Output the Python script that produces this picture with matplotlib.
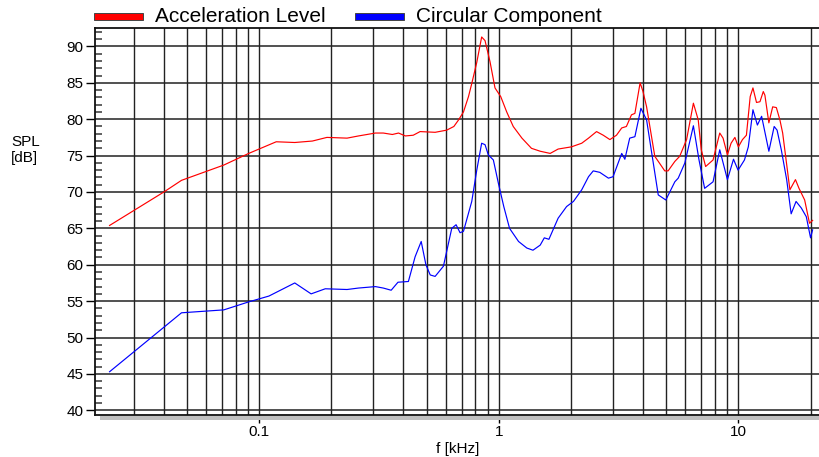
import matplotlib
matplotlib.use('Agg')
import matplotlib.pyplot as plt
from matplotlib.patches import Rectangle
from matplotlib.ticker import FixedLocator, NullFormatter

plt.rcParams['font.family'] = ['Liberation Sans', 'DejaVu Sans']

# Acceleration level (red), frequency in kHz and level in dB
acc_freq = [0.0238, 0.0401, 0.0475, 0.0713, 0.0906, 0.118, 0.141, 0.167, 0.192, 0.233,
            0.26, 0.306, 0.33, 0.36, 0.382, 0.408, 0.44, 0.47, 0.543, 0.607,
            0.65, 0.68, 0.713, 0.748, 0.772, 0.81, 0.849, 0.877, 0.92, 0.965,
            1.02, 1.08, 1.15, 1.25, 1.37, 1.49, 1.64, 1.77, 2.01, 2.22,
            2.37, 2.56, 2.73, 2.91, 3.10, 3.26, 3.41, 3.58, 3.70, 3.89,
            4.0, 4.14, 4.48, 4.93, 5.09, 5.43, 5.69, 6.08, 6.49, 6.8,
            7.0, 7.3, 7.84, 8.36, 8.63, 9.0, 9.32, 9.67, 10.0, 10.4,
            10.8, 11.2, 11.5, 11.9, 12.3, 12.7, 12.9, 13.4, 13.9, 14.4,
            14.9, 15.3, 16.4, 17.3, 17.9, 18.9, 19.8, 20.4]
acc_level = [65.4, 70.0, 71.6, 73.7, 75.3, 76.9, 76.8, 77.0, 77.5, 77.4,
             77.7, 78.1, 78.1, 77.9, 78.1, 77.7, 77.8, 78.3, 78.2, 78.5,
             79.0, 79.9, 81.0, 83.1, 84.9, 87.8, 91.3, 90.8, 87.9, 84.3,
             83.1, 81.0, 79.0, 77.4, 76.0, 75.6, 75.3, 75.9, 76.2, 76.7,
             77.4, 78.3, 77.8, 77.2, 77.8, 78.8, 79.0, 80.6, 80.8, 85.0,
             83.8, 81.7, 74.9, 72.9, 72.9, 74.2, 74.9, 77.2, 82.2, 79.9,
             75.8, 73.5, 74.4, 78.1, 77.4, 75.1, 76.7, 77.5, 76.2, 77.2,
             77.8, 83.1, 84.3, 82.3, 82.4, 83.8, 83.3, 79.5, 81.7, 81.6,
             79.9, 78.1, 70.3, 71.7, 70.5, 68.9, 65.7, 66.1]

# Circular component (blue)
circ_freq = [0.0238, 0.0475, 0.0713, 0.0906, 0.11, 0.141, 0.165, 0.189, 0.233, 0.26,
             0.306, 0.33, 0.356, 0.38, 0.42, 0.448, 0.475, 0.497, 0.518, 0.543,
             0.588, 0.637, 0.664, 0.69, 0.713, 0.772, 0.81, 0.849, 0.877, 0.905,
             0.95, 0.997, 1.05, 1.11, 1.21, 1.31, 1.39, 1.49, 1.55, 1.62,
             1.77, 1.92, 2.05, 2.22, 2.37, 2.48, 2.64, 2.87, 3.0, 3.26,
             3.36, 3.52, 3.70, 3.92, 4.14, 4.63, 4.98, 5.43, 5.61, 5.98,
             6.49, 6.85, 7.23, 7.84, 8.36, 9.0, 9.54, 9.97, 10.6, 11.0,
             11.5, 12.0, 12.5, 13.4, 14.1, 14.5, 15.1, 15.9, 16.6, 17.4,
             18.3, 19.2, 20.0, 20.4]
circ_level = [45.3, 53.4, 53.8, 54.9, 55.7, 57.5, 56.0, 56.7, 56.6, 56.8,
              57.0, 56.8, 56.5, 57.6, 57.7, 61.1, 63.2, 60.0, 58.6, 58.4,
              59.8, 65.0, 65.5, 64.4, 64.6, 68.7, 73.0, 76.7, 76.5, 75.1,
              74.4, 71.2, 68.0, 65.0, 63.2, 62.3, 62.0, 62.7, 63.7, 63.5,
              66.4, 68.0, 68.7, 70.3, 72.1, 72.9, 72.7, 71.9, 72.1, 75.3,
              74.5, 77.4, 77.6, 81.5, 79.9, 69.6, 68.9, 71.4, 71.9, 74.0,
              79.1, 74.4, 70.5, 71.4, 75.8, 71.7, 74.5, 73.0, 74.4, 76.2,
              81.3, 79.2, 80.4, 75.6, 79.0, 78.5, 75.8, 71.7, 67.0, 68.7,
              67.8, 66.6, 63.7, 64.8]

x_major = [0.1, 1, 10]
x_major_labels = ['0.1', '1', '10']
x_minor = [0.03, 0.04, 0.05, 0.06, 0.07, 0.08, 0.09,
           0.2, 0.3, 0.4, 0.5, 0.6, 0.7, 0.8, 0.9,
           2, 3, 4, 5, 6, 7, 8, 9, 20]
y_major = list(range(40, 91, 5))
y_minor = [v for v in range(40, 93) if v % 5 != 0]

fig = plt.figure(figsize=(8.2, 4.57), dpi=100)
ax = fig.add_axes([0.1159, 0.0926, 1 - 0.1159, 0.9398 - 0.0926])

# grey shadow under the x axis
fig.patches.append(Rectangle((100 / 820, 37 / 457), 1 - 100 / 820, 4.5 / 457,
                             transform=fig.transFigure, facecolor='#c0c0c0',
                             edgecolor='none', zorder=0))

ax.plot(acc_freq, acc_level, color='#ff0000', lw=0.85, zorder=3)
ax.plot(circ_freq, circ_level, color='#0000ff', lw=0.85, zorder=3)

ax.set_xscale('log')
ax.set_xlim(0.0207, 21.9)
ax.set_ylim(39.4, 92.6)

ax.xaxis.set_major_locator(FixedLocator(x_major))
ax.set_xticklabels(x_major_labels)
ax.xaxis.set_minor_locator(FixedLocator(x_minor))
ax.xaxis.set_minor_formatter(NullFormatter())
ax.yaxis.set_major_locator(FixedLocator(y_major))
ax.yaxis.set_minor_locator(FixedLocator(y_minor))

ax.grid(True, which='both', axis='x', color='#222222', lw=1.0)
ax.grid(True, which='major', axis='y', color='#222222', lw=1.1)
ax.set_axisbelow(True)

ax.tick_params(axis='y', which='major', direction='out', length=6.5, width=1,
               labelsize=11, pad=2)
ax.tick_params(axis='y', which='minor', direction='in', length=5.3, width=1.3,
               color='#555555')
ax.tick_params(axis='x', which='major', direction='out', length=5.5, width=1,
               labelsize=11, pad=2)
ax.tick_params(axis='x', which='minor', length=0)

for s in ['left', 'bottom', 'top']:
    ax.spines[s].set_color('#111111')
    ax.spines[s].set_linewidth(1.3)
ax.spines['right'].set_visible(False)

ax.set_xlabel('f [kHz]', fontsize=11, labelpad=2)
fig.text(11 / 820, 1 - 150 / 457, 'SPL\n[dB]', fontsize=11, ha='left',
         va='center', linespacing=1.25)

# legend across the top
legend_items = [('Acceleration Level', '#ff0000', 94), ('Circular Component', '#0000ff', 355)]
for label, col, x0 in legend_items:
    fig.patches.append(Rectangle((x0 / 820, 1 - 20 / 457), 49 / 820, 7.5 / 457,
                                 transform=fig.transFigure, facecolor=col,
                                 edgecolor='#444444', lw=0.7))
    fig.text((x0 + 61) / 820, 1 - 16.5 / 457, label, fontsize=15,
             ha='left', va='center')

fig.savefig('out.png', dpi=100)
